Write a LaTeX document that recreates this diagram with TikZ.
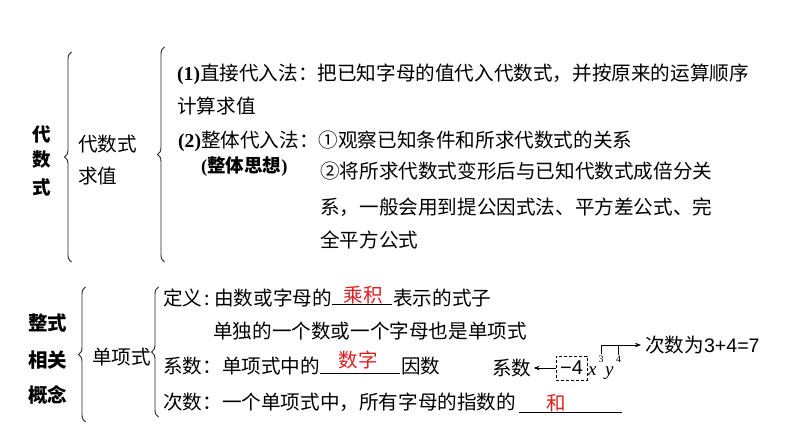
\documentclass[tikz,border=0pt]{standalone}
\usepackage{fontspec}
\setmainfont{Liberation Serif}
\newfontfamily\cjk{Noto Sans CJK SC}
\newfontfamily\arialf{Liberation Sans}
\usetikzlibrary{arrows.meta,decorations.pathreplacing}
\definecolor{ansred}{RGB}{222,30,30}
\newcommand\rmb[1]{{\rmfamily\bfseries #1}}
\begin{document}
\begin{tikzpicture}[x=1bp,y=-1bp,
  txt/.style={anchor=west,inner sep=0pt,text height=17bp,text depth=2.5bp,font=\cjk\fontsize{19.6bp}{22bp}\selectfont},
  headv/.style={inner sep=0pt,font=\cjk\bfseries\fontsize{18.5bp}{20bp}\selectfont},
  headh/.style={inner sep=0pt,font=\cjk\bfseries\fontsize{19.5bp}{20bp}\selectfont},
  ans/.style={inner sep=0pt,text=ansred,font=\cjk\fontsize{19.5bp}{20bp}\selectfont},
  bracestyle/.style={decorate,decoration={brace,amplitude=7bp},line width=0.9bp,draw=black!85},
  uline/.style={line width=1bp},
  thin/.style={line width=0.8bp},
  arr/.style={line width=0.8bp,-{Stealth[length=6bp,width=4.5bp]}}]
\fill[white] (0,0) rectangle (794,447);
\useasboundingbox (0,0) rectangle (794,447);

% ---- top part
\node[headv] (h1a) at (42,134) {代};
\node[headv] (h1b) at (42,160) {数};
\node[headv] (h1c) at (42,187) {式};
\draw[bracestyle] (71.5,262) -- (71.5,52);

\node[txt] (m1) at (78,144) {代数式};
\node[txt] (m2) at (78,176) {求值};
\draw[bracestyle] (164.5,262) -- (164.5,47);

\node[txt] (l1) at (177,73) {\rmb{(1)}直接代入法：把已知字母的值代入代数式，并按原来的运算顺序};
\node[txt] (l2) at (177,106) {计算求值};
\node[txt] (l3) at (178,140) {\rmb{(2)}整体代入法：①观察已知条件和所求代数式的关系};
\node[headv,anchor=west] (l3b) at (201,167) {\rmb{(}整体思想\rmb{)}};
\node[txt] (l4) at (320,171) {②将所求代数式变形后与已知代数式成倍分关};
\node[txt] (l5) at (320,207) {系，一般会用到提公因式法、平方差公式、完};
\node[txt] (l6) at (320,240) {全平方公式};

% ---- bottom part
\node[headh] (g1) at (47.5,323) {整式};
\node[headh] (g2) at (47.5,360) {相关};
\node[headh] (g3) at (47.5,395) {概念};
\draw[bracestyle] (85.5,422) -- (85.5,287);

\node[txt] (dx) at (92,357) {单项式};
\draw[bracestyle] (158.5,417) -- (158.5,287);

\node[txt] (d1) at (163,298) {定义\hspace{2.5bp}:\hspace{4bp}由数或字母的};
\coordinate (u1a) at (332,305);
\coordinate (u1b) at (392,305);
\draw[uline] (u1a) -- (u1b);
\node[ans] (a1) at (363,295) {乘积};
\node[txt] (d1b) at (393,298) {表示的式子};

\node[txt] (d2) at (213,331) {单独的一个数或一个字母也是单项式};

\node[txt] (d3) at (163,366) {系数：单项式中的};
\coordinate (u2a) at (320,373);
\coordinate (u2b) at (400,373);
\draw[uline] (u2a) -- (u2b);
\node[ans] (a2) at (358,360) {数字};
\node[txt] (d3b) at (401,366) {因数};

\node[txt] (d4) at (163,402) {次数：一个单项式中，所有字母的指数的};
\coordinate (u3a) at (519,412);
\coordinate (u3b) at (622,412);
\draw[uline] (u3a) -- (u3b);
\node[ans] (a3) at (556,403) {和};

% ---- example monomial
\node[txt] (kx) at (492,368) {系数};
\node[draw,thin,dash pattern=on 3bp off 2bp,minimum width=31bp,minimum height=24bp,inner sep=0pt,
      font=\arialf\fontsize{20bp}{20bp}\selectfont] (box) at (571.5,368) {−4};
\node[inner sep=0pt,anchor=base west,font=\itshape\fontsize{19bp}{19bp}\selectfont] (vx) at (588,376) {x};
\node[inner sep=0pt,font=\fontsize{10bp}{10bp}\selectfont] (s3) at (601,359) {3};
\node[inner sep=0pt,anchor=base west,font=\itshape\fontsize{19bp}{19bp}\selectfont] (vy) at (605,376) {y};
\node[inner sep=0pt,font=\fontsize{10bp}{10bp}\selectfont] (s4) at (618.5,359) {4};
\node[txt] (deg) at (645,345) {次数为{\arialf 3+4=7}};

\draw[arr,shorten >=2bp] (box.west) -- (kx.east);
\draw[arr] ([yshift=1bp]s3.north) |- ([xshift=-4bp]deg.west);
\draw[thin] ([yshift=1bp]s4.north) -- (s4.north |- deg.west);
\end{tikzpicture}
\end{document}
